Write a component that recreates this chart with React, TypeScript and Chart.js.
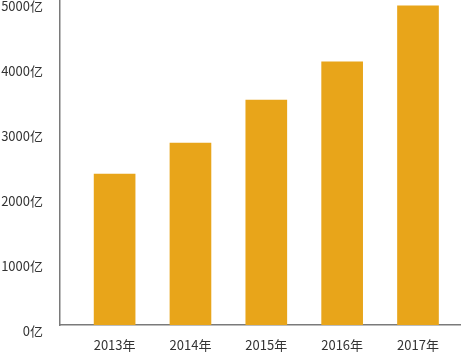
import React, { useEffect, useRef } from "react";
import { Chart, registerables } from "chart.js";

Chart.register(...registerables);

// Annual figures (亿)
const years = ["2013年", "2014年", "2015年", "2016年", "2017年"];
const values = [2320, 2800, 3460, 4050, 4910];
const yTicks = [0, 1000, 2000, 3000, 4000, 5000];

const BAR_COLOR = "#E8A51A";
const AXIS_COLOR = "#7a7a7a";
const TEXT_COLOR = "#333333";
const FONT = "'Noto Sans CJK SC', 'Noto Sans', sans-serif";

export default function App() {
  const canvasRef = useRef<HTMLCanvasElement | null>(null);

  useEffect(() => {
    const canvas = canvasRef.current;
    if (!canvas) return;
    const chart = new Chart(canvas, {
      type: "bar",
      data: {
        datasets: [
          {
            data: values.map((v, i) => ({ x: i, y: v })),
            backgroundColor: BAR_COLOR,
            borderWidth: 0,
            barThickness: 41,
          },
        ],
      },
      options: {
        animation: false,
        responsive: false,
        devicePixelRatio: 1,
        layout: { padding: 0 },
        plugins: {
          legend: { display: false },
          tooltip: { enabled: false },
        },
        scales: {
          x: {
            type: "linear",
            min: -0.72,
            max: 4.567,
            offset: false,
            grid: { display: false, drawTicks: false },
            border: { display: true, color: AXIS_COLOR, width: 1.5 },
            afterBuildTicks: (scale: any) => {
              scale.ticks = years.map((_, i) => ({ value: i }));
            },
            afterFit: (scale: any) => {
              scale.height = 27;
              scale.paddingLeft = 0;
              scale.paddingRight = 0;
            },
            ticks: {
              autoSkip: false,
              maxRotation: 0,
              padding: 12,
              color: TEXT_COLOR,
              font: { family: FONT, size: 13 },
              callback: (v: any) => years[Number(v)] ?? "",
            },
          },
          y: {
            min: 0,
            max: 5000,
            grid: { display: false, drawTicks: false },
            border: { display: true, color: AXIS_COLOR, width: 1.5 },
            afterBuildTicks: (scale: any) => {
              scale.ticks = yTicks.map((v) => ({ value: v }));
            },
            afterFit: (scale: any) => {
              scale.width = 60;
              scale.paddingTop = 0;
              scale.paddingBottom = 0;
            },
            ticks: {
              align: "start",
              padding: 17,
              color: TEXT_COLOR,
              font: { family: FONT, size: 13 },
              callback: (v: any) => `${v}亿`,
            },
          },
        },
      },
    });
    return () => chart.destroy();
  }, []);

  return (
    <div style={{ position: "fixed", left: 0, top: 0, width: 461, height: 352, background: "#fff" }}>
      <canvas ref={canvasRef} width={461} height={352} style={{ display: "block" }} />
    </div>
  );
}
